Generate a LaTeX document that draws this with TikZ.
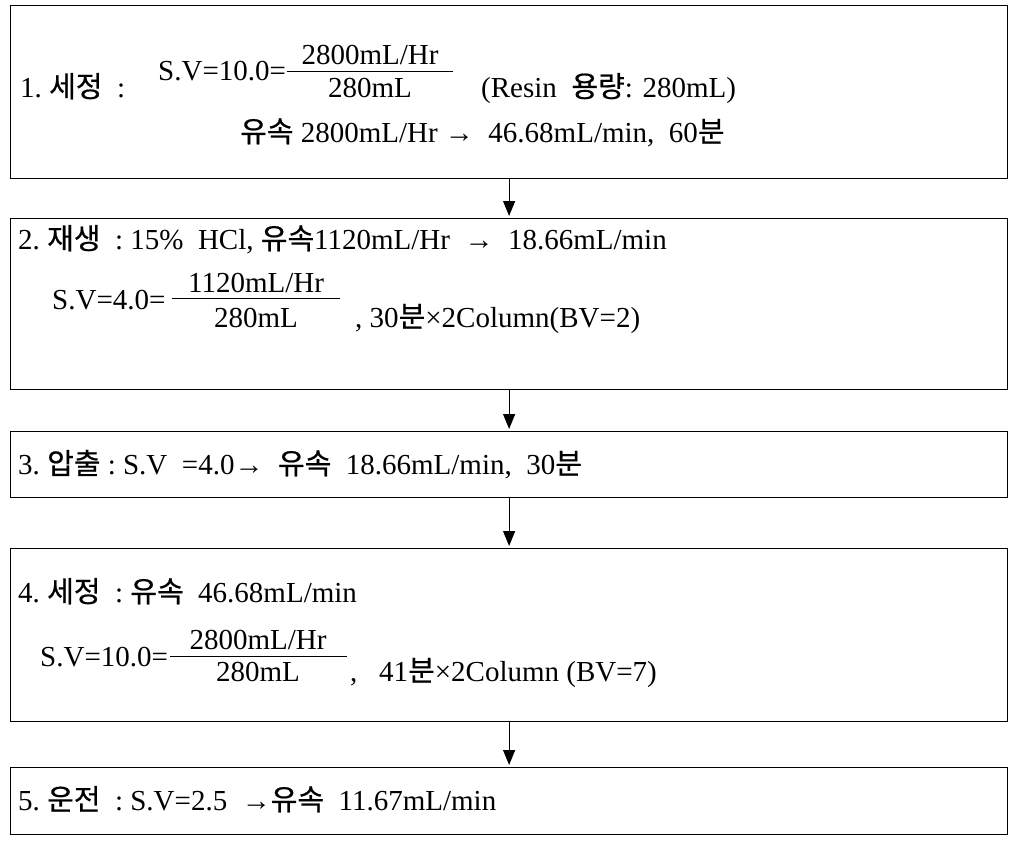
\documentclass[tikz,border=0pt]{standalone}
\usepackage{fontspec}
\setmainfont{Liberation Serif}
\newfontfamily\kr[FakeBold=0.6]{Noto Sans CJK KR}
\newcommand\hk[1]{{\kr #1}}
\usetikzlibrary{arrows.meta}
\begin{document}
\begin{tikzpicture}[x=1pt,y=-1pt,
  box/.style={draw,line width=1.2pt,inner sep=0pt,anchor=north west,minimum width=997pt},
  txt/.style={anchor=base west,inner sep=0pt,font=\fontsize{29}{34}\selectfont},
  ctr/.style={anchor=base,inner sep=0pt,font=\fontsize{29}{34}\selectfont},
  frac/.style={line width=1pt},
  arr/.style={line width=1.2pt,-{Triangle[width=12pt,length=15pt]},shorten >=2pt}]
\useasboundingbox (0,0) rectangle (1022,846);
% boxes
\node[box,minimum height=173pt] (b1) at (10,5) {};
\node[box,minimum height=171pt] (b2) at (10,218) {};
\node[box,minimum height=66pt] (b3) at (10,431) {};
\node[box,minimum height=173pt] (b4) at (10,548) {};
\node[box,minimum height=67pt] (b5) at (10,767) {};
% arrows
\draw[arr] (b1.south) -- (b2.north);
\draw[arr] (b2.south) -- (b3.north);
\draw[arr] (b3.south) -- (b4.north);
\draw[arr] (b4.south) -- (b5.north);
% box 1
\node[txt] (t1a) at (20,97) {1.\ \hk{세정}\ \ :};
\node[txt] (t1b) at (158,80) {S.V=10.0=};
\draw[frac] (287,71) -- (453,71);
\node[ctr] (t1n) at (370,64) {2800mL/Hr};
\node[ctr] (t1d) at (370,97) {280mL};
\node[txt] (t1c) at (481,97) {(Resin\ \ \hk{용량}: 280mL)};
\node[txt] (t1e) at (240,142) {\hk{유속}\ 2800mL/Hr\ \textrightarrow\ \ 46.68mL/min,\ \ 60\hk{분}};
% box 2
\node[txt] (t2a) at (18,249) {2.\ \hk{재생}\ \ :\ 15\%\ \ HCl,\ \hk{유속}1120mL/Hr\ \ \textrightarrow\ \ 18.66mL/min};
\node[txt] (t2b) at (52,309) {S.V=4.0=};
\draw[frac] (172,298) -- (340,298);
\node[ctr] (t2n) at (256,292) {1120mL/Hr};
\node[ctr] (t2d) at (256,327) {280mL};
\node[txt] (t2c) at (355,327) {,\ 30\hk{분}\texttimes2Column(BV=2)};
% box 3
\node[txt] (t3a) at (18,474) {3.\ \hk{압출}\ :\ S.V\ \ =4.0\textrightarrow\ \ \hk{유속}\ \ 18.66mL/min,\ \ 30\hk{분}};
% box 4
\node[txt] (t4a) at (18,602) {4.\ \hk{세정}\ \ :\ \hk{유속}\ \ 46.68mL/min};
\node[txt] (t4b) at (40,666) {S.V=10.0=};
\draw[frac] (170,656) -- (347,656);
\node[ctr] (t4n) at (258,649) {2800mL/Hr};
\node[ctr] (t4d) at (258,681) {280mL};
\node[txt] (t4c) at (350,681) {,\ \ \ 41\hk{분}\texttimes2Column\ (BV=7)};
% box 5
\node[txt] (t5a) at (18,810) {5.\ \hk{운전}\ \ :\ S.V=2.5\ \ \textrightarrow\hk{유속}\ \ 11.67mL/min};
\end{tikzpicture}
\end{document}
